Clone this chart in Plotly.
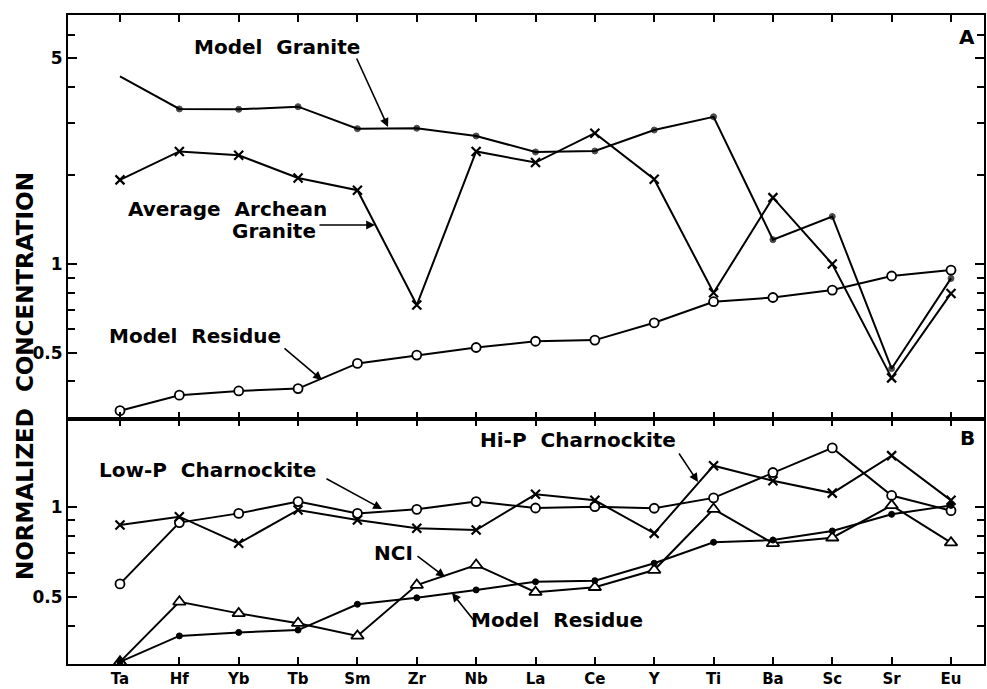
import plotly.graph_objects as go

elements = ["Ta", "Hf", "Yb", "Tb", "Sm", "Zr", "Nb", "La", "Ce", "Y", "Ti", "Ba", "Sc", "Sr", "Eu"]

# Panel A
model_granite = [4.33, 3.36, 3.35, 3.42, 2.88, 2.89, 2.72, 2.40, 2.42, 2.85, 3.16, 1.21, 1.45, 0.442, 0.894]
avg_archean_granite = [1.93, 2.41, 2.34, 1.96, 1.78, 0.726, 2.41, 2.21, 2.78, 1.94, 0.799, 1.68, 1.00, 0.411, 0.795]
model_residue_a = [0.318, 0.359, 0.371, 0.378, 0.460, 0.491, 0.521, 0.547, 0.552, 0.632, 0.745, 0.770, 0.816, 0.911, 0.954]

# Panel B
low_p_charnockite = [0.553, 0.885, 0.95, 1.04, 0.95, 0.98, 1.04, 0.99, 1.0, 0.988, 1.07, 1.30, 1.57, 1.09, 0.97]
hi_p_charnockite = [0.869, 0.926, 0.755, 0.975, 0.903, 0.847, 0.836, 1.10, 1.05, 0.815, 1.37, 1.22, 1.11, 1.48, 1.05]
nci = [0.304, 0.482, 0.441, 0.409, 0.371, 0.548, 0.639, 0.519, 0.539, 0.615, 0.982, 0.755, 0.788, 1.01, 0.759]
model_residue_b = [0.304, 0.371, 0.381, 0.388, 0.473, 0.497, 0.528, 0.562, 0.567, 0.648, 0.761, 0.774, 0.83, 0.943, 1.01]

ytick_vals_a = [0.5, 1, 5]
ytick_text_a = ["0.5", "1", "5"]
yminor_a = [0.4, 0.6, 0.7, 0.8, 0.9, 2, 3, 4, 6]
ytick_vals_b = [0.5, 1]
ytick_text_b = ["0.5", "1"]
yminor_b = [0.4, 0.6, 0.7, 0.8, 0.9]

W, H = 987, 689
ML, MR, MT, MB = 68, 3, 15, 25
PW, PH = W - ML - MR, H - MT - MB
split = (664 - 419) / PH

FONT = "DejaVu Sans"
BLACK = "black"

def px2paper(px, py):
    return (px - ML) / PW, (H - MB - py) / PH

fig = go.Figure()

def add(y, xa, ya, symbol, size, fill, lw=1.5, sizes=None):
    fig.add_trace(go.Scatter(
        x=elements, y=y, xaxis=xa, yaxis=ya, mode="lines+markers",
        line=dict(color=BLACK, width=2),
        marker=dict(symbol=symbol, size=sizes if sizes else size, color=fill,
                    line=dict(color=BLACK, width=lw)),
        cliponaxis=False, showlegend=False, hoverinfo="skip"))

# Panel A
add(model_granite, "x", "y", "circle", 6, BLACK, 1, sizes=[0] + [6] * 14)
add(avg_archean_granite, "x", "y", "x-thin", 9, BLACK, 2.2)
add(model_residue_a, "x", "y", "circle", 9, "white", 1.8)
# Panel B
add(low_p_charnockite, "x2", "y2", "circle", 9, "white", 1.8)
add(hi_p_charnockite, "x2", "y2", "x-thin", 9, BLACK, 2.2)
add(nci, "x2", "y2", "triangle-up", 11, "white", 1.8)
add(model_residue_b, "x2", "y2", "circle", 6, BLACK, 1)

xr = [-0.876, 14.556]
axis_common = dict(showline=True, linecolor=BLACK, linewidth=2, mirror="ticks",
                   ticks="inside", tickcolor=BLACK, showgrid=False, zeroline=False,
                   automargin=False)

fig.update_layout(
    width=W, height=H, paper_bgcolor="white", plot_bgcolor="white",
    margin=dict(l=ML, r=MR, t=MT, b=MB, autoexpand=False),
    font=dict(family=FONT, color=BLACK),
    xaxis=dict(**axis_common, type="category", range=xr, anchor="y",
               showticklabels=False, ticklen=7, tickwidth=2),
    yaxis=dict(**axis_common, type="log", domain=[split, 1], anchor="x",
               range=[-0.5258, 0.8451], tickmode="array", tickvals=ytick_vals_a,
               ticktext=ytick_text_a, ticklen=9, tickwidth=2,
               tickfont=dict(size=17, family=FONT, weight="bold"),
               minor=dict(tickmode="array", tickvals=yminor_a, ticks="inside",
                          ticklen=7, tickwidth=2, tickcolor=BLACK, showgrid=False)),
    xaxis2=dict(**axis_common, type="category", range=xr, anchor="y2",
                ticklen=7, tickwidth=2, ticklabelstandoff=0,
                tickfont=dict(size=15, family=FONT, weight="bold")),
    yaxis2=dict(**axis_common, type="log", domain=[0, split], anchor="x2",
                range=[-0.5243, 0.2923], tickmode="array", tickvals=ytick_vals_b,
                ticktext=ytick_text_b, ticklen=9, tickwidth=2,
                tickfont=dict(size=17, family=FONT, weight="bold"),
                minor=dict(tickmode="array", tickvals=yminor_b, ticks="inside",
                           ticklen=7, tickwidth=2, tickcolor=BLACK, showgrid=False)),
)

def text(t, px, py, size=20, angle=0):
    x, y = px2paper(px, py)
    fig.add_annotation(x=x, y=y, xref="paper", yref="paper", text=t, showarrow=False,
                       textangle=angle, xanchor="center", yanchor="middle",
                       font=dict(size=size, family=FONT, color=BLACK, weight="bold"))

def arrow(sx, sy, tx, ty):
    x, y = px2paper(tx, ty)
    fig.add_annotation(x=x, y=y, xref="paper", yref="paper", text="", showarrow=True,
                       ax=sx - tx, ay=sy - ty, arrowhead=2, arrowsize=1.1, arrowwidth=1.6,
                       arrowcolor=BLACK, standoff=0, startstandoff=0)

text("Model  Granite", 277, 47)
arrow(356, 57, 388, 127)
text("Average  Archean", 227, 209)
text("Granite", 274, 231)
arrow(318, 225, 375, 225)
text("Model  Residue", 195, 336)
arrow(283, 347, 322, 380)
text("A", 967, 37)

text("Hi-P  Charnockite", 578, 440)
arrow(678, 452, 698, 482)
text("Low-P  Charnockite", 207, 470)
arrow(325, 478, 382, 509)
text("NCI", 393, 553)
arrow(416, 555, 445, 577)
text("Model  Residue", 557, 620)
arrow(476, 623, 452, 593)
text("B", 967, 438)

text("NORMALIZED  CONCENTRATION", 25, 376, size=23, angle=-90)

fig.write_html("out.html", config={"displayModeBar": False, "staticPlot": True},
               post_script="document.body.style.margin='0';document.body.style.overflow='hidden';")
